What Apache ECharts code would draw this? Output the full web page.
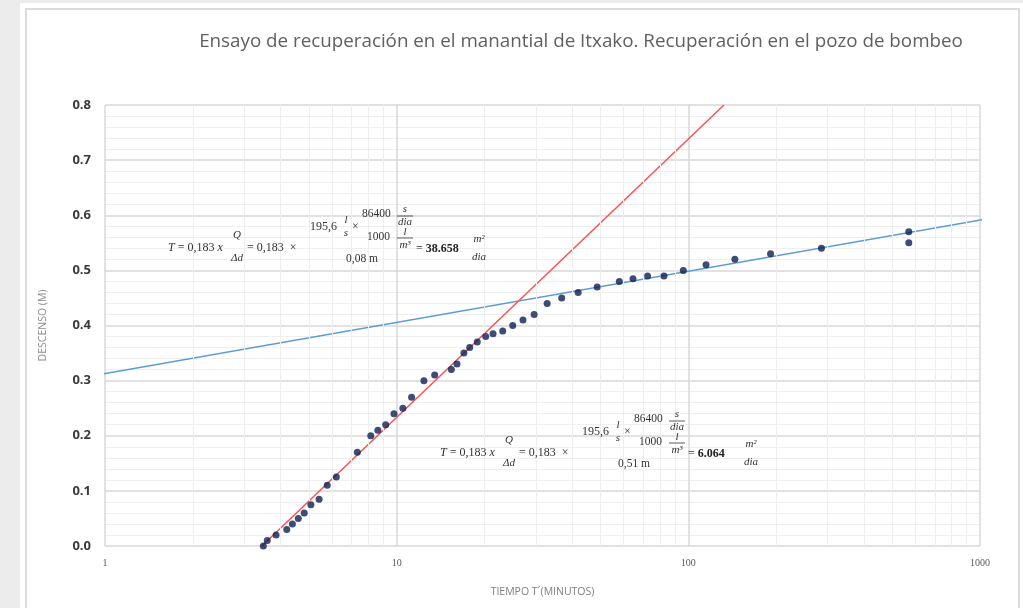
<!DOCTYPE html>
<html>
<head>
<meta charset="utf-8">
<script src="https://cdn.jsdelivr.net/npm/echarts@6/dist/echarts.min.js"></script>
<style>
  html, body { margin: 0; padding: 0; background: #ececec; }
  #sheet { position: absolute; left: 20px; top: 3px; width: 1003px; height: 605px; background: #fff; }
  #frame { position: absolute; left: 25px; top: 8px; width: 991px; height: 620px; border: 2px solid #dcdcdc; }
  #chart { position: absolute; left: 0; top: 0; width: 1023px; height: 608px; }
</style>
</head>
<body>
<div id="sheet"></div>
<div id="frame"></div>
<div id="chart"></div>
<script>
// tiempo t' (minutos) and descenso (m)
const tiempos = [3.49, 3.6, 3.86, 4.2, 4.39, 4.6, 4.82, 5.08, 5.42, 5.78,
  6.21, 7.33, 8.15, 8.62, 9.17, 9.79, 10.5, 11.25, 12.4, 13.5,
  15.4, 16.1, 17.0, 17.8, 18.9, 20.2, 21.4, 23.1, 25.0, 27.1,
  29.6, 32.8, 36.8, 41.9, 48.7, 58.0, 64.6, 72.5, 82.5, 96.1,
  115, 144.4, 191.4, 286, 570, 570];
const descensos = [0, 0.01, 0.02, 0.03, 0.04, 0.05, 0.06, 0.075, 0.085, 0.11,
  0.125, 0.17, 0.2, 0.21, 0.22, 0.24, 0.25, 0.27, 0.3, 0.31,
  0.32, 0.33, 0.35, 0.36, 0.37, 0.38, 0.385, 0.39, 0.4, 0.41,
  0.42, 0.44, 0.45, 0.46, 0.47, 0.48, 0.485, 0.49, 0.49, 0.5,
  0.51, 0.52, 0.53, 0.54, 0.57, 0.55];

// fitted straight lines (end points)
const rectaRoja = [[3.45, 0], [132.5, 0.8]];
const rectaAzul = [[0.96, 0.311], [1070, 0.594]];

// minor log grid lines
const lineasMenoresX = [2, 3, 4, 5, 6, 7, 8, 9,
  20, 30, 40, 50, 60, 70, 80, 90,
  200, 300, 400, 500, 600, 700, 800, 900];

const puntos = tiempos.map((t, i) => [t, descensos[i]]);

const serif = "'Liberation Serif', 'DejaVu Serif', serif";
const rich = {
  i: { fontFamily: serif, fontStyle: 'italic', fontSize: 12, fill: '#333' },
  b: { fontFamily: serif, fontWeight: 'bold', fontSize: 12, fill: '#222' }
};

function txt(text, x, y, opts) {
  opts = opts || {};
  return {
    type: 'text', x: x, y: y, silent: true, z: 100,
    style: {
      text: text, rich: rich,
      fontFamily: serif, fontSize: opts.size || 12,
      fontStyle: opts.italic ? 'italic' : 'normal',
      fontWeight: opts.bold ? 'bold' : 'normal',
      fill: '#333',
      align: opts.align || 'left', verticalAlign: 'middle'
    }
  };
}
function raya(x1, x2, y) {
  return { type: 'line', silent: true, z: 100,
    shape: { x1: x1, y1: y, x2: x2, y2: y },
    style: { stroke: '#333', lineWidth: 0.8 } };
}

function formula(ox, oy, den, res) {
  // ox, oy = position of the "T" / main baseline
  return [
    txt('{i|T} = 0,183 {i|x}', ox, oy),
    txt('Q', ox + 69, oy - 13, { italic: true, align: 'center', size: 11 }),
    txt('Δd', ox + 69, oy + 10, { italic: true, align: 'center', size: 11 }),
    txt('= 0,183  ×', ox + 79, oy),
    txt('195,6', ox + 142, oy - 21),
    txt('l', ox + 178, oy - 28, { italic: true, align: 'center', size: 11 }),
    txt('s', ox + 178, oy - 15, { italic: true, align: 'center', size: 11 }),
    txt('×', ox + 184, oy - 21),
    txt('86400', ox + 194, oy - 34, { size: 11.5 }),
    txt('s', ox + 237, oy - 39, { italic: true, align: 'center', size: 11 }),
    raya(ox + 229, ox + 245, oy - 32),
    txt('dia', ox + 237, oy - 26, { italic: true, align: 'center', size: 11 }),
    txt('1000', ox + 199, oy - 11, { size: 11.5 }),
    txt('l', ox + 237, oy - 16, { italic: true, align: 'center', size: 11 }),
    raya(ox + 229, ox + 245, oy - 10),
    txt('m³', ox + 237, oy - 3, { italic: true, align: 'center', size: 11 }),
    txt(den, ox + 178, oy + 11, { size: 11.5 }),
    txt('= {b|' + res + '}', ox + 248, oy + 1),
    txt('m²', ox + 311, oy - 9, { italic: true, align: 'center', size: 11 }),
    txt('dia', ox + 311, oy + 9, { italic: true, align: 'center', size: 11 })
  ];
}

const chart = echarts.init(document.getElementById('chart'), null, { renderer: 'canvas' });

const option = {
  backgroundColor: 'transparent',
  animation: false,
  title: {
    text: 'Ensayo de recuperación en el manantial de Itxako. Recuperación en el pozo de bombeo',
    left: 576, top: 27, textAlign: 'center',
    textStyle: { fontFamily: "'Open Sans', sans-serif", fontSize: 18.8, fontWeight: 'normal', color: '#606060' }
  },
  grid: { left: 105, right: 43, top: 105, bottom: 62 },
  xAxis: {
    type: 'log', logBase: 10, min: 1, max: 1000,
    name: 'TIEMPO T´(MINUTOS)', nameLocation: 'middle', nameGap: 41,
    nameTextStyle: { fontFamily: "'Open Sans', sans-serif", fontSize: 10.5, color: '#7f7f7f' },
    axisLine: { show: false }, axisTick: { show: false },
    axisLabel: { formatter: v => String(Math.round(v)), fontFamily: serif, fontSize: 10, color: '#595959', margin: 12 },
    splitLine: { show: true, lineStyle: { color: '#d9d9d9', width: 1.5 } }
  },
  yAxis: {
    type: 'value', min: 0, max: 0.8, interval: 0.1,
    name: 'DESCENSO (M)', nameLocation: 'middle', nameGap: 56, nameRotate: 90,
    nameTextStyle: { fontFamily: "'Open Sans', sans-serif", fontSize: 10.5, color: '#8c8c8c' },
    axisLine: { show: false }, axisTick: { show: false },
    axisLabel: { formatter: v => v.toFixed(1), fontFamily: "'Open Sans', sans-serif",
      fontSize: 13, fontWeight: 'bold', color: '#3a3a3a', margin: 14 },
    splitLine: { show: true, lineStyle: { color: '#d9d9d9', width: 1.5 } },
    minorTick: { show: false, splitNumber: 5 },
    minorSplitLine: { show: true, lineStyle: { color: '#efefef', width: 1 } }
  },
  series: [
    {
      type: 'line', data: [], silent: true, z: 1,
      markLine: {
        silent: true, symbol: 'none', animation: false,
        label: { show: false },
        lineStyle: { color: '#eeeeee', width: 1, type: 'solid' },
        data: lineasMenoresX.map(v => ({ xAxis: v }))
      }
    },
    {
      name: 'recta azul', type: 'line', data: rectaAzul, clip: false, z: 3,
      showSymbol: false, symbol: 'none',
      lineStyle: { color: '#5b9bd5', width: 1.5 }
    },
    {
      name: 'recta roja', type: 'line', data: rectaRoja, clip: false, z: 3,
      showSymbol: false, symbol: 'none',
      lineStyle: { color: '#ff5050', width: 1.5 }
    },
    {
      name: 'descenso', type: 'scatter', data: puntos, clip: false, z: 5,
      symbol: 'circle', symbolSize: 7,
      itemStyle: { color: '#0c2152' }
    }
  ],
  graphic: formula(168, 248, '0,08 m', '38.658').concat(formula(440, 453, '0,51 m', '6.064'))
};

chart.setOption(option);
</script>
</body>
</html>
